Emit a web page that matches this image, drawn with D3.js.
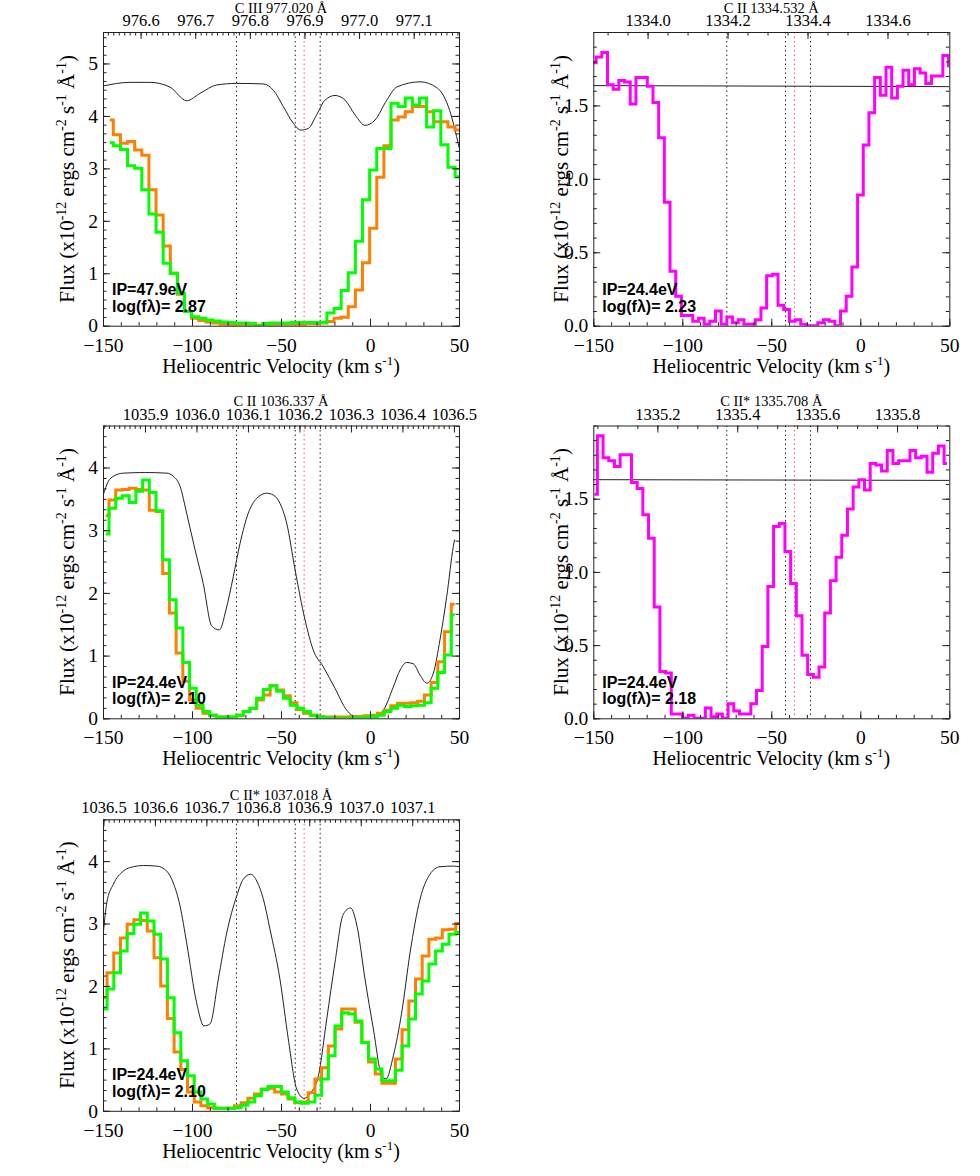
<!DOCTYPE html>
<html>
<head>
<meta charset="utf-8">
<script src="https://cdn.jsdelivr.net/npm/d3@7"></script>
<style>
  body { margin: 0; background: #fff; }
  svg { display: block; }
</style>
</head>
<body>
<div id="chart"></div>
<script>
// ---------- data ----------
var C_KMS = 299792.458;
var velTicks = [-150, -100, -50, 0, 50];
var markVel = [-75, -42, -28];   // black dotted
var redVel = [-37];              // red dotted

// C III 977.020
var ciiiRest = 977.020;
var ciiiWl = [976.6, 976.7, 976.8, 976.9, 977.0, 977.1];
var ciiiBins = [-146.2, 4.0];    // first bin centre, bin width (km/s)
var ciiiOrange = [3.92, 3.64, 3.48, 3.51, 3.35, 3.25, 2.59, 2.11, 1.52, 1.00,
  0.60, 0.27, 0.14, 0.10, 0.07, 0.05, 0.03, 0.02, 0.01, 0.00,
  0.00, 0.01, 0.02, 0.02, 0.03, 0.03, 0.03, 0.03, 0.04, 0.04,
  0.05, 0.08, 0.14, 0.16, 0.36, 0.68, 1.20, 1.86, 2.83, 3.43,
  3.92, 3.98, 4.08, 4.18, 4.18, 4.08, 3.89, 3.89, 3.79, 3.73, 3.72];
var ciiiGreen = [3.49, 3.43, 3.36, 3.05, 3.00, 2.59, 2.13, 1.78, 1.19, 1.00,
  0.62, 0.27, 0.17, 0.14, 0.11, 0.09, 0.07, 0.06, 0.05, 0.05,
  0.04, 0.00, 0.04, 0.05, 0.05, 0.05, 0.06, 0.06, 0.06, 0.06,
  0.06, 0.24, 0.33, 0.67, 1.01, 1.61, 2.40, 2.97, 3.38, 3.38,
  4.24, 4.18, 4.34, 4.21, 4.34, 3.79, 4.10, 3.45, 3.02, 2.84, 2.80];
var ciiiModelV = [-150, -134.8, -123.6, -112.4, -103.0, -95.5, -86.1, -74.9, -59.9, -54.3,
  -48.7, -43.1, -38.9, -34.7, -30.0, -25.3, -19.7, -14.0, -8.4, -2.8,
  2.8, 9.4, 15.0, 28.1, 37.5, 44.0, 50.2];
var ciiiModelF = [4.57, 4.64, 4.64, 4.55, 4.29, 4.43, 4.59, 4.62, 4.61, 4.49,
  4.18, 3.86, 3.73, 3.76, 4.02, 4.30, 4.39, 4.30, 4.02, 3.82,
  3.92, 4.30, 4.55, 4.65, 4.54, 4.18, 3.38];

// C II 1334.532
var cii1334Rest = 1334.532;
var cii1334Wl = [1334.0, 1334.2, 1334.4, 1334.6];
var cii1334Bins = [-150.0, 3.193];
var cii1334Flux = [1.79, 1.83, 1.86, 1.64, 1.61, 1.67, 1.66, 1.51, 1.69, 1.69,
  1.63, 1.52, 1.28, 0.84, 0.37, 0.20, 0.07, 0.07, 0.03, 0.05,
  0.01, 0.03, 0.10, 0.01, 0.06, 0.02, 0.04, 0.01, 0.01, 0.04,
  0.12, 0.34, 0.35, 0.14, 0.11, 0.03, 0.04, 0.01, 0.00, 0.00,
  0.02, 0.04, 0.03, 0.00, 0.10, 0.20, 0.40, 0.89, 1.23, 1.45,
  1.69, 1.57, 1.76, 1.55, 1.63, 1.74, 1.64, 1.75, 1.72, 1.65,
  1.70, 1.70, 1.84, 1.77];
var cii1334ContV = [-150, 50];
var cii1334ContF = [1.635, 1.628];

// C II 1036.337
var cii1036Rest = 1036.337;
var cii1036Wl = [1035.9, 1036.0, 1036.1, 1036.2, 1036.3, 1036.4, 1036.5];
var cii1036Bins = [-148.5, 3.77];
var cii1036Orange = [3.23, 3.48, 3.64, 3.65, 3.67, 3.65, 3.64, 3.32, 3.30, 2.31,
  1.68, 1.04, 0.59, 0.29, 0.16, 0.08, 0.05, 0.02, 0.02, 0.02,
  0.05, 0.11, 0.16, 0.29, 0.37, 0.52, 0.45, 0.36, 0.25, 0.14,
  0.08, 0.05, 0.03, 0.02, 0.02, 0.02, 0.02, 0.03, 0.03, 0.04,
  0.05, 0.08, 0.13, 0.20, 0.24, 0.24, 0.25, 0.27, 0.37, 0.57,
  0.90, 1.38, 1.82];
var cii1036Green = [2.94, 3.35, 3.51, 3.55, 3.44, 3.62, 3.80, 3.60, 3.31, 2.53,
  1.89, 1.44, 0.89, 0.48, 0.21, 0.11, 0.05, 0.02, 0.02, 0.02,
  0.05, 0.11, 0.16, 0.32, 0.46, 0.52, 0.43, 0.32, 0.21, 0.16,
  0.11, 0.05, 0.02, 0.01, 0.00, 0.00, 0.00, 0.01, 0.01, 0.02,
  0.03, 0.05, 0.11, 0.16, 0.21, 0.19, 0.20, 0.21, 0.25, 0.48,
  0.73, 1.01, 1.65];
var cii1036ModelV = [-150, -147.0, -144.2, -138.6, -126.0, -114.2, -110.5, -106.7, -103.0, -98.3,
  -93.7, -88.9, -84.6, -80.9, -76.8, -73.0, -68.4, -63.6, -58.0, -54.3,
  -50.6, -46.8, -42.1, -36.5, -31.9, -26.2, -19.7, -13.1, -7.5, 1.9,
  7.5, 13.1, 16.9, 20.6, 24.3, 28.1, 31.9, 35.6, 39.3, 43.1, 46.8, 47.5];
var cii1036ModelF = [3.55, 3.78, 3.86, 3.91, 3.92, 3.91, 3.86, 3.70, 3.27, 2.69,
  2.15, 1.47, 1.41, 1.73, 2.26, 2.79, 3.27, 3.51, 3.59, 3.56,
  3.43, 3.11, 2.37, 1.57, 1.09, 0.82, 0.48, 0.13, 0.02, 0.02,
  0.13, 0.50, 0.77, 0.89, 0.87, 0.69, 0.56, 0.72, 1.25, 1.94, 2.74, 2.85];

// C II* 1335.708
var cii1335Rest = 1335.708;
var cii1335Wl = [1335.2, 1335.4, 1335.6, 1335.8];
var cii1335Bins = [-149.3, 3.193];
var cii1335Flux = [1.53, 1.93, 1.78, 1.76, 1.72, 1.80, 1.80, 1.61, 1.57, 1.39,
  1.23, 0.76, 0.32, 0.31, 0.03, 0.03, 0.00, 0.02, 0.00, 0.00,
  0.07, 0.01, 0.03, 0.00, 0.10, 0.05, 0.03, 0.03, 0.10, 0.19,
  0.49, 0.90, 1.31, 1.33, 1.14, 0.92, 0.70, 0.43, 0.30, 0.28,
  0.35, 0.72, 0.94, 1.10, 1.25, 1.43, 1.58, 1.63, 1.56, 1.74,
  1.73, 1.69, 1.83, 1.74, 1.76, 1.76, 1.83, 1.78, 1.79, 1.68,
  1.81, 1.86, 1.74];
var cii1335ContV = [-150, 50];
var cii1335ContF = [1.630, 1.625];

// C II* 1037.018
var cii1037Rest = 1037.018;
var cii1037Wl = [1036.5, 1036.6, 1036.7, 1036.8, 1036.9, 1037.0, 1037.1];
var cii1037Bins = [-149.6, 3.767];
var cii1037Orange = [1.81, 2.21, 2.53, 2.77, 2.99, 3.06, 3.05, 2.88, 2.45, 2.00,
  1.48, 0.94, 0.66, 0.30, 0.14, 0.08, 0.05, 0.04, 0.04, 0.04,
  0.08, 0.13, 0.20, 0.27, 0.35, 0.36, 0.30, 0.27, 0.19, 0.13,
  0.14, 0.29, 0.51, 0.69, 1.04, 1.31, 1.63, 1.63, 1.42, 1.10,
  0.78, 0.59, 0.44, 0.44, 0.83, 1.30, 1.76, 2.11, 2.48, 2.75,
  2.77, 2.90, 2.91, 3.00];
var cii1037Green = [1.63, 1.95, 2.21, 2.56, 2.84, 2.99, 3.17, 3.04, 2.83, 2.43,
  1.81, 1.25, 0.80, 0.56, 0.30, 0.19, 0.11, 0.04, 0.04, 0.04,
  0.05, 0.09, 0.14, 0.24, 0.34, 0.39, 0.39, 0.30, 0.21, 0.14,
  0.12, 0.14, 0.25, 0.51, 0.88, 1.36, 1.57, 1.55, 1.44, 1.09,
  0.83, 0.67, 0.48, 0.48, 0.65, 1.04, 1.47, 1.87, 2.08, 2.35,
  2.56, 2.67, 2.83, 2.86];
var cii1037ModelV = [-149.8, -147.9, -144.2, -138.6, -133.0, -127.4, -119.8, -114.2, -110.5, -106.7,
  -103.0, -97.4, -93.3, -89.9, -85.2, -80.5, -74.9, -71.2, -67.0, -63.6,
  -59.9, -56.2, -50.6, -45.9, -41.2, -37.1, -33.3, -29.0, -24.3, -19.7,
  -15.0, -10.9, -7.1, -2.8, 1.9, 6.6, 9.0, 13.1, 17.8, 22.5,
  28.1, 33.7, 39.3, 46.8, 50.2];
var cii1037ModelF = [2.85, 3.33, 3.63, 3.84, 3.91, 3.93, 3.92, 3.84, 3.65, 3.28,
  2.69, 1.73, 1.36, 1.39, 2.11, 2.85, 3.44, 3.71, 3.79, 3.68,
  3.39, 2.91, 2.11, 1.15, 0.35, 0.20, 0.29, 0.56, 1.47, 2.37,
  3.15, 3.25, 2.93, 2.11, 1.31, 0.56, 0.51, 0.88, 1.57, 2.53,
  3.39, 3.79, 3.91, 3.92, 3.91];

var ipLabels = ["IP=47.9eV", "IP=24.4eV", "IP=24.4eV", "IP=24.4eV", "IP=24.4eV"];
var logFl = ["2.87", "2.23", "2.10", "2.18", "2.10"];
var titles = ["C III  977.020 \u00c5", "C II 1334.532 \u00c5", "C II 1036.337 \u00c5",
  "C II* 1335.708 \u00c5", "C II* 1037.018 \u00c5"];
var bigYTicks = [0, 1, 2, 3, 4, 5];
var smallYTicks = [0, 0.5, 1.0, 1.5];

// ---------- layout ----------
var SERIF = "'Liberation Serif','Times New Roman',serif";
var SANS = "'Liberation Sans',Arial,sans-serif";
var colLeft = [103, 593.3];
var rowTop = [32, 425.5, 819.3];
var rowH = [293.7, 292.8, 291.5];
var plotW = 356;
var ORANGE = "#ff8000", GREEN = "#00ff00", MAGENTA = "#ff00ff";

var panelDefs = [
  { col: 0, row: 0, rest: ciiiRest, wl: ciiiWl, wlMinor: 0.01, yMax: 5.6, yTicks: bigYTicks, yMinor: 1 / 6, yFmt: d3.format("d"),
    model: [ciiiModelV, ciiiModelF], modelCurve: d3.curveMonotoneX,
    hist: [{ bins: ciiiBins, vals: ciiiOrange, color: ORANGE }, { bins: ciiiBins, vals: ciiiGreen, color: GREEN }] },
  { col: 1, row: 0, rest: cii1334Rest, wl: cii1334Wl, wlMinor: 0.05, yMax: 2.0, yTicks: smallYTicks, yMinor: 0.1, yFmt: d3.format(".1f"),
    model: [cii1334ContV, cii1334ContF], modelCurve: d3.curveLinear,
    hist: [{ bins: cii1334Bins, vals: cii1334Flux, color: MAGENTA }] },
  { col: 0, row: 1, rest: cii1036Rest, wl: cii1036Wl, wlMinor: 0.01, yMax: 4.67, yTicks: bigYTicks.slice(0, 5), yMinor: 1 / 6, yFmt: d3.format("d"),
    model: [cii1036ModelV, cii1036ModelF], modelCurve: d3.curveMonotoneX,
    hist: [{ bins: cii1036Bins, vals: cii1036Orange, color: ORANGE }, { bins: cii1036Bins, vals: cii1036Green, color: GREEN }] },
  { col: 1, row: 1, rest: cii1335Rest, wl: cii1335Wl, wlMinor: 0.05, yMax: 2.0, yTicks: smallYTicks, yMinor: 0.1, yFmt: d3.format(".1f"),
    model: [cii1335ContV, cii1335ContF], modelCurve: d3.curveLinear,
    hist: [{ bins: cii1335Bins, vals: cii1335Flux, color: MAGENTA }] },
  { col: 0, row: 2, rest: cii1037Rest, wl: cii1037Wl, wlMinor: 0.01, yMax: 4.67, yTicks: bigYTicks.slice(0, 5), yMinor: 1 / 6, yFmt: d3.format("d"),
    model: [cii1037ModelV, cii1037ModelF], modelCurve: d3.curveMonotoneX,
    hist: [{ bins: cii1037Bins, vals: cii1037Orange, color: ORANGE }, { bins: cii1037Bins, vals: cii1037Green, color: GREEN }] }
];

var svg = d3.select('#chart')
  .append('svg')
  .attr('width', 980)
  .attr('height', 1176)
  .style('background', '#fff');

panelDefs.forEach(drawPanel);

function stepRange(lo, hi, step) {
  var out = [];
  for (var i = Math.ceil(lo / step - 1e-6); i * step <= hi + 1e-9; i++) out.push(+(i * step).toFixed(6));
  return out;
}

function styleAxis(g, size) {
  g.select('.domain').remove();
  g.attr('font-family', SERIF).attr('font-size', size).attr('color', '#222');
  g.selectAll('text').attr('fill', '#000');
  g.selectAll('line').attr('stroke-width', 1);
}

function supText(t, parts, supSize, rise) {
  // parts: alternating normal / superscript strings
  parts.forEach(function (s, k) {
    var ts = t.append('tspan').text(s);
    if (k % 2 === 1) ts.attr('dy', -rise).attr('font-size', supSize);
    else if (k > 0) ts.attr('dy', rise);
  });
}

function drawPanel(p, i) {
  var left = colLeft[p.col], top = rowTop[p.row], w = plotW, h = rowH[p.row];
  var g = svg.append('g').attr('transform', 'translate(' + left + ',' + top + ')');

  var x = d3.scaleLinear().domain([-150, 50]).range([0, w]);
  var y = d3.scaleLinear().domain([0, p.yMax]).range([h, 0]);
  var wl = d3.scaleLinear()
    .domain([p.rest * (1 - 150 / C_KMS), p.rest * (1 + 50 / C_KMS)])
    .range([0, w]);

  g.append('clipPath').attr('id', 'clip' + i)
    .append('rect').attr('width', w).attr('height', h);
  var plot = g.append('g').attr('clip-path', 'url(#clip' + i + ')');

  // reference velocities
  plot.selectAll('line.mark').data(markVel).join('line')
    .attr('class', 'mark')
    .attr('x1', d => x(d)).attr('x2', d => x(d))
    .attr('y1', 0).attr('y2', h)
    .attr('stroke', '#222').attr('stroke-width', 1).attr('stroke-dasharray', '1.5,3');
  plot.selectAll('line.red').data(redVel).join('line')
    .attr('class', 'red')
    .attr('x1', d => x(d)).attr('x2', d => x(d))
    .attr('y1', 0).attr('y2', h)
    .attr('stroke', '#ff5555').attr('stroke-width', 1).attr('stroke-dasharray', '1.5,3');

  // model / continuum
  var mv = p.model[0], mf = p.model[1];
  plot.append('path')
    .datum(mv.map((v, k) => [v, mf[k]]))
    .attr('fill', 'none').attr('stroke', '#222').attr('stroke-width', 1)
    .attr('d', d3.line().x(d => x(d[0])).y(d => y(d[1])).curve(p.modelCurve));

  // binned spectra
  p.hist.forEach(function (s) {
    plot.append('path')
      .datum(s.vals)
      .attr('fill', 'none').attr('stroke', s.color).attr('stroke-width', 3)
      .attr('stroke-linejoin', 'miter')
      .attr('d', d3.line()
        .x((d, k) => x(s.bins[0] + k * s.bins[1]))
        .y(d => y(d))
        .curve(d3.curveStep));
  });

  // axes: bottom velocity
  var gb = g.append('g').attr('transform', 'translate(0,' + h + ')');
  gb.append('g').call(d3.axisBottom(x).tickValues(stepRange(-150, 50, 10)).tickSize(-3.5).tickFormat(''));
  gb.append('g').call(d3.axisBottom(x).tickValues(velTicks).tickSize(-7).tickPadding(12));
  gb.selectAll('g').each(function () { styleAxis(d3.select(this), '19.5px'); });

  // top wavelength
  var dom = wl.domain();
  var gt = g.append('g');
  gt.append('g').call(d3.axisTop(wl).tickValues(stepRange(dom[0], dom[1], p.wlMinor)).tickSize(-3.5).tickFormat(''));
  gt.append('g').call(d3.axisTop(wl).tickValues(p.wl).tickSize(-7).tickPadding(6).tickFormat(d3.format('.1f')));
  gt.selectAll('g').each(function () { styleAxis(d3.select(this), '16.5px'); });

  // left / right flux
  var yMin = stepRange(0, p.yMax, p.yMinor);
  var gl = g.append('g');
  gl.append('g').call(d3.axisLeft(y).tickValues(yMin).tickSize(-3.5).tickFormat(''));
  gl.append('g').call(d3.axisLeft(y).tickValues(p.yTicks).tickSize(-7).tickPadding(5).tickFormat(p.yFmt));
  gl.selectAll('g').each(function () { styleAxis(d3.select(this), '19.5px'); });
  var gr = g.append('g').attr('transform', 'translate(' + w + ',0)');
  gr.append('g').call(d3.axisRight(y).tickValues(yMin).tickSize(-3.5).tickFormat(''));
  gr.append('g').call(d3.axisRight(y).tickValues(p.yTicks).tickSize(-7).tickFormat(''));
  gr.selectAll('g').each(function () { styleAxis(d3.select(this), '19.5px'); });

  // frame
  g.append('rect').attr('x', 0.5).attr('y', 0.5).attr('width', w).attr('height', h)
    .attr('fill', 'none').attr('stroke', '#222').attr('stroke-width', 1);

  // title above the wavelength axis
  g.append('text')
    .attr('x', w / 2).attr('y', -19.5)
    .attr('text-anchor', 'middle')
    .attr('font-family', SERIF).attr('font-size', '14.5px').attr('fill', '#000')
    .text(titles[i]);

  // x title
  var xt = g.append('text')
    .attr('x', w / 2).attr('y', h + 47)
    .attr('text-anchor', 'middle')
    .attr('font-family', SERIF).attr('font-size', '20px').attr('fill', '#000');
  supText(xt, ['Heliocentric Velocity (km s', '-1', ')'], '13px', 8);

  // y title
  var yx = p.col === 0 ? -29 : -25;
  var yt = g.append('text')
    .attr('transform', 'translate(' + yx + ',' + (h / 2) + ') rotate(-90)')
    .attr('text-anchor', 'middle')
    .attr('font-family', SERIF).attr('font-size', '21px').attr('fill', '#000');
  supText(yt, ['Flux (x10', '-12', ' ergs cm', '-2', ' s', '-1', ' \u00c5', '-1', ')'], '14px', 8);

  // ionisation potential / oscillator strength
  g.append('text')
    .attr('x', 9).attr('y', h - 30.5)
    .attr('font-family', SANS).attr('font-weight', 'bold').attr('font-size', '16px').attr('fill', '#000')
    .text(ipLabels[i]);
  g.append('text')
    .attr('x', 9).attr('y', h - 14)
    .attr('font-family', SANS).attr('font-weight', 'bold').attr('font-size', '16px').attr('fill', '#000')
    .text('log(f\u03bb)= ' + logFl[i]);
}
</script>
</body>
</html>
